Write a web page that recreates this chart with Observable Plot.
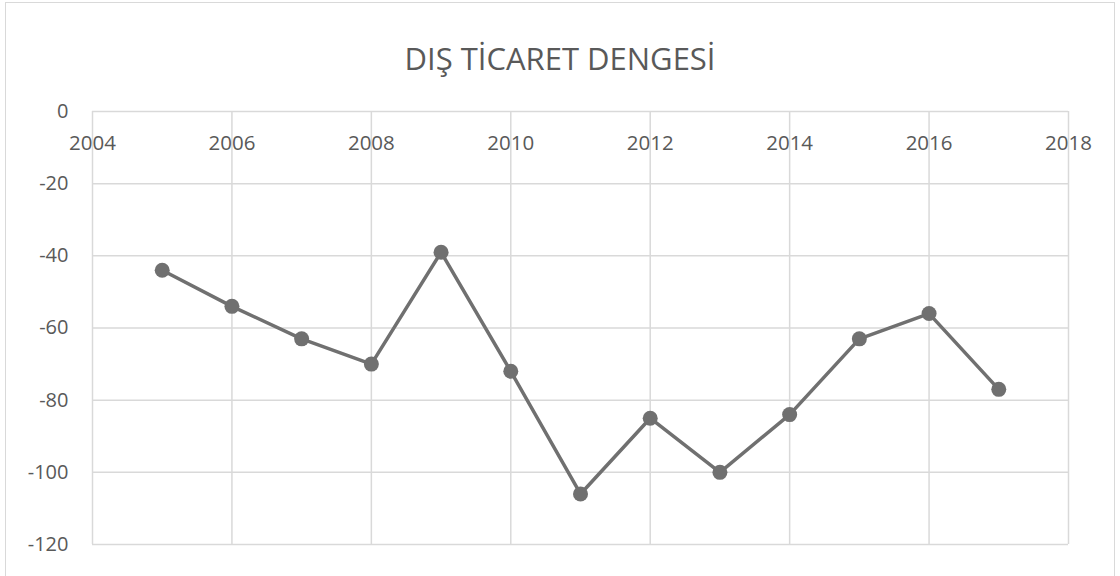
<!DOCTYPE html>
<html>
<head>
<meta charset="utf-8">
<script src="https://cdn.jsdelivr.net/npm/d3@7"></script>
<script src="https://cdn.jsdelivr.net/npm/@observablehq/plot@0.6"></script>
<style>
  html, body { margin: 0; padding: 0; background: #fff; }
  #wrap { position: relative; width: 1120px; height: 576px; overflow: hidden; font-family: "Open Sans", sans-serif; }
  #frame { position: absolute; left: 5px; top: 2px; width: 1110px; height: 580px; border: 1px solid #d9d9d9; box-sizing: border-box; }
  #title { position: absolute; left: 0; top: 0; width: 1120px; height: 96px; line-height: 116px; text-align: center; font-size: 31px; color: #595959; }
  #chart { position: absolute; left: 0; top: 96px; }
</style>
</head>
<body>
<div id="wrap">
  <div id="frame"></div>
  <div id="title">DIŞ TİCARET DENGESİ</div>
  <div id="chart"></div>
</div>
<script>
const years = [2005, 2006, 2007, 2008, 2009, 2010, 2011, 2012, 2013, 2014, 2015, 2016, 2017];
const balance = [-44, -54, -63, -70, -39, -72, -106, -85, -100, -84, -63, -56, -77];
const xTicks = [2004, 2006, 2008, 2010, 2012, 2014, 2016, 2018];
const yTicks = [0, -20, -40, -60, -80, -100, -120];

const data = years.map((y, i) => ({year: y, value: balance[i]}));

const chart = Plot.plot({
  width: 1120,
  height: 480,
  marginTop: 15,
  marginBottom: 32,
  marginLeft: 92,
  marginRight: 52,
  style: {fontFamily: "Open Sans, sans-serif", fontSize: "20px", color: "#595959", background: "transparent", overflow: "visible"},
  x: {domain: [2004, 2018], axis: null},
  y: {domain: [-120, 0], axis: null},
  marks: [
    Plot.gridX(xTicks, {stroke: "#d9d9d9", strokeOpacity: 1, strokeWidth: 1.5}),
    Plot.gridY(yTicks, {stroke: "#d9d9d9", strokeOpacity: 1, strokeWidth: 1.5}),
    Plot.axisY(yTicks, {tickSize: 0, tickPadding: 24, fill: "#595959", fontSize: 20, label: null, tickFormat: d => String(d)}),
    Plot.text(xTicks, {x: d => d, y: 0, text: d => String(d), dy: 32, fill: "#595959", fontSize: 20.5}),
    Plot.line(data, {x: "year", y: "value", stroke: "#707070", strokeWidth: 3.5}),
    Plot.dot(data, {x: "year", y: "value", r: 7.5, fill: "#707070", stroke: "none"})
  ]
});
document.getElementById("chart").appendChild(chart);
</script>
</body>
</html>
